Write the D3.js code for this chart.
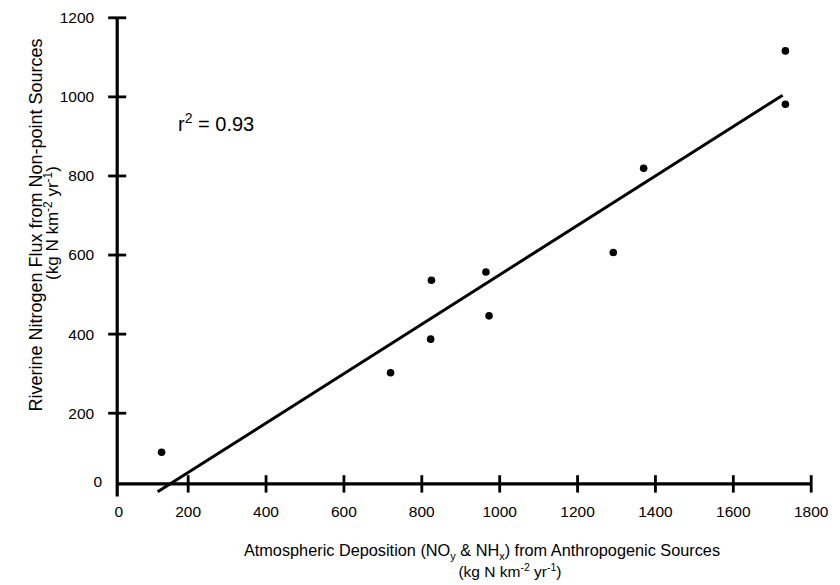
<!DOCTYPE html>
<html>
<head>
<meta charset="utf-8">
<script src="https://cdn.jsdelivr.net/npm/d3@7"></script>
<style>
  html, body { margin: 0; padding: 0; background: #fff; }
  svg { display: block; font-family: "Liberation Sans", Arial, Helvetica, sans-serif; }
</style>
</head>
<body>
<svg id="chart" width="840" height="585"></svg>
<script>
// ---- data ----
const deposition   = [133, 721, 824, 826, 966, 974, 1293, 1371, 1735, 1735];
const riverineFlux = [100, 301, 386, 535, 556, 445, 605, 818, 1115, 980];
const xTickValues  = [0, 200, 400, 600, 800, 1000, 1200, 1400, 1600, 1800];
const yTickValues  = [0, 200, 400, 600, 800, 1000, 1200];
const fitXRange    = [123, 1728];
const fitSlope     = 0.625;
const fitIntercept = -77;
const r2Label      = "0.93";
// axes cross slightly inside the data origin, as in the original figure
const axisCross    = {x: 19, y: 20};

const svg = d3.select("#chart");
const x = d3.scaleLinear().domain([0, 1800]).range([109.8, 810.7]);
const y = d3.scaleLinear().domain([0, 1200]).range([491.8, 17.3]);
const fmt = d3.format("d");

const x0 = x(axisCross.x), y0 = y(axisCross.y);
const tickFont = "15.5px";

// x axis
const gx = svg.append("g").attr("transform", `translate(0,${y0})`)
  .call(d3.axisBottom(x).tickValues(xTickValues.filter(d => d !== 0)).tickFormat(fmt).tickSize(0).tickPadding(0));
gx.select(".domain").remove();
gx.selectAll(".tick line").attr("y1", -8.7).attr("y2", 8.7).attr("stroke", "#000").attr("stroke-width", 2.8);
gx.selectAll(".tick text").attr("y", 33).attr("dy", 0).attr("fill", "#000").style("font-size", tickFont);
svg.append("line").attr("x1", x0).attr("x2", x(1800)).attr("y1", y0).attr("y2", y0)
  .attr("stroke", "#000").attr("stroke-width", 3.2);

// y axis
const gy = svg.append("g").attr("transform", `translate(${x0},0)`)
  .call(d3.axisLeft(y).tickValues(yTickValues.filter(d => d !== 0)).tickFormat(fmt).tickSize(0).tickPadding(0));
gy.select(".domain").remove();
gy.selectAll(".tick line").attr("x1", -9).attr("x2", 9).attr("stroke", "#000").attr("stroke-width", 2.8);
gy.selectAll(".tick text").attr("x", -23).attr("dy", "0.35em").attr("fill", "#000").style("font-size", tickFont);
svg.append("line").attr("x1", x0).attr("x2", x0).attr("y1", y(1200)).attr("y2", y0 + 12.5)
  .attr("stroke", "#000").attr("stroke-width", 3.2);

// zero labels placed at the axis crossing
svg.append("text").attr("x", x0 + 1.5).attr("y", y0 + 33).attr("text-anchor", "middle")
  .style("font-size", tickFont).text(fmt(xTickValues[0]));
svg.append("text").attr("x", x0 - 15).attr("y", y0 - 2).attr("dy", "0.35em").attr("text-anchor", "end")
  .style("font-size", tickFont).text(fmt(yTickValues[0]));

// regression line
svg.append("line")
  .attr("x1", x(fitXRange[0])).attr("y1", y(fitSlope * fitXRange[0] + fitIntercept))
  .attr("x2", x(fitXRange[1])).attr("y2", y(fitSlope * fitXRange[1] + fitIntercept))
  .attr("stroke", "#000").attr("stroke-width", 3);

// points
svg.append("g").selectAll("circle").data(deposition.map((d, i) => [d, riverineFlux[i]]))
  .join("circle").attr("cx", d => x(d[0])).attr("cy", d => y(d[1])).attr("r", 3.8).attr("fill", "#000");

// r^2 annotation
const r2 = svg.append("text").attr("x", 178).attr("y", 131).style("font-size", "20px");
r2.append("tspan").text("r");
r2.append("tspan").attr("dy", -8).style("font-size", "14px").text("2");
r2.append("tspan").attr("dy", 8).text(" = " + r2Label);

// x title
const xt = svg.append("text").attr("x", 482).attr("y", 556).attr("text-anchor", "middle").style("font-size", "16.3px");
xt.append("tspan").text("Atmospheric Deposition (NO");
xt.append("tspan").attr("dy", 4).style("font-size", "11px").text("y");
xt.append("tspan").attr("dy", -4).text(" & NH");
xt.append("tspan").attr("dy", 4).style("font-size", "11px").text("x");
xt.append("tspan").attr("dy", -4).text(") from Anthropogenic Sources");
const xt2 = svg.append("text").attr("x", 510).attr("y", 577).attr("text-anchor", "middle").style("font-size", "15.5px");
xt2.append("tspan").text("(kg N km");
xt2.append("tspan").attr("dy", -6).style("font-size", "10.5px").text("-2");
xt2.append("tspan").attr("dy", 6).text(" yr");
xt2.append("tspan").attr("dy", -6).style("font-size", "10.5px").text("-1");
xt2.append("tspan").attr("dy", 6).text(")");

// y title
const yt = svg.append("text").attr("transform", "translate(42,225) rotate(-90)").attr("text-anchor", "middle").style("font-size", "18px");
yt.text("Riverine Nitrogen Flux from Non-point Sources");
const yt2 = svg.append("text").attr("transform", "translate(58,223) rotate(-90)").attr("text-anchor", "middle").style("font-size", "17px");
yt2.append("tspan").text("(kg N km");
yt2.append("tspan").attr("dy", -6).style("font-size", "12px").text("-2");
yt2.append("tspan").attr("dy", 6).text(" yr");
yt2.append("tspan").attr("dy", -6).style("font-size", "12px").text("-1");
yt2.append("tspan").attr("dy", 6).text(")");
</script>
</body>
</html>
